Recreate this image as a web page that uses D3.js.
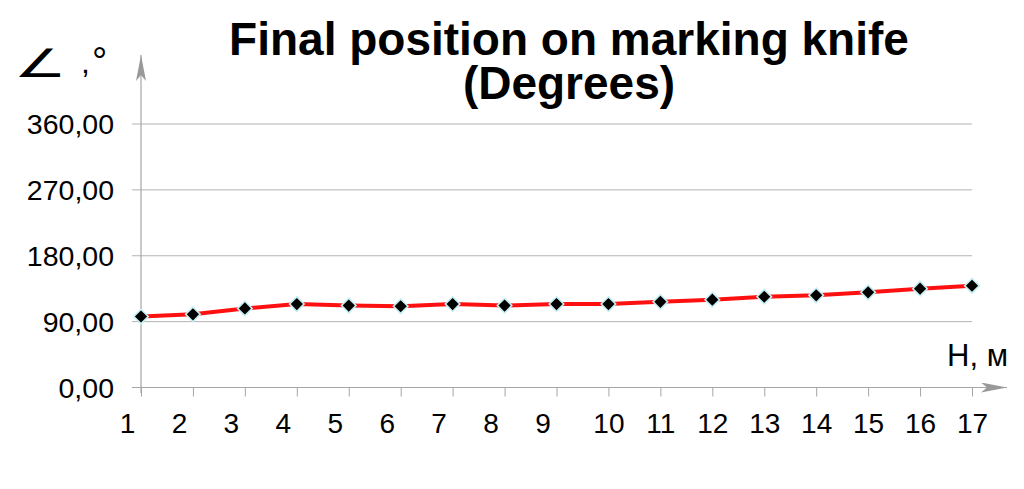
<!DOCTYPE html>
<html lang="en">
<head>
  <meta charset="UTF-8">
  <title>Final position on marking knife</title>
  <script src="https://d3js.org/d3.v7.min.js"></script>
  <style>
    html, body { margin: 0; padding: 0; background: #fff; }
    svg { display: block; }
    text { font-family: "Liberation Sans", Arial, sans-serif; fill: #000; }
  </style>
</head>
<body>
  <svg id="chart" width="1024" height="489"></svg>

  <script>
    // chart data
    const heights = ["1", "2", "3", "4", "5", "6", "7", "8", "9", "10", "11", "12", "13", "14", "15", "16", "17"];
    const angles = [97, 100, 108, 114, 112, 111, 114, 112, 114, 114, 117, 120, 124, 126, 130, 135, 139];
    const yTicks = [0, 90, 180, 270, 360];
    const titleLines = ["Final position on marking knife", "(Degrees)"];

    const svg = d3.select('#chart');

    // scales
    const x = d3.scalePoint()
      .domain(heights)
      .range([141, 972]);

    const y = d3.scaleLinear()
      .domain([0, 360])
      .range([387.5, 124]);

    const fmt = v => d3.format('.2f')(v).replace('.', ',');
    const axisColor = '#a6a6a6';

    // gridlines
    svg.append('g')
      .selectAll('line')
      .data(yTicks.filter(d => d > 0))
      .join('line')
      .attr('x1', 132)
      .attr('x2', x('17'))
      .attr('y1', d => y(d))
      .attr('y2', d => y(d))
      .attr('stroke', '#b3b3b3')
      .attr('stroke-width', 1);

    // y axis labels
    svg.append('g')
      .selectAll('text')
      .data(yTicks)
      .join('text')
      .attr('x', 114)
      .attr('y', d => y(d) + 10)
      .attr('text-anchor', 'end')
      .attr('font-size', 28.5)
      .text(fmt);

    // x axis with downward ticks
    const xAxis = d3.axisBottom(x)
      .tickSize(9)
      .tickFormat(d => d);

    const gx = svg.append('g')
      .attr('transform', `translate(0,${y(0)})`)
      .call(xAxis);
    gx.select('.domain').remove();
    gx.selectAll('.tick line').attr('stroke', axisColor);
    gx.selectAll('.tick text')
      .attr('font-family', '"Liberation Sans", Arial, sans-serif')
      .attr('font-size', 28)
      .attr('fill', '#000')
      .attr('dy', null)
      .attr('y', 45.5)
      .attr('dx', d => d.length === 1 ? -14 : 0);

    // arrow marker
    const defs = svg.append('defs');
    defs.append('marker')
      .attr('id', 'arrow')
      .attr('viewBox', '0 0 26 10')
      .attr('refX', 26)
      .attr('refY', 5)
      .attr('markerWidth', 26)
      .attr('markerHeight', 10)
      .attr('markerUnits', 'userSpaceOnUse')
      .attr('orient', 'auto')
      .append('path')
      .attr('d', 'M0,0 L26,5 L0,10 L6,5 Z')
      .attr('fill', '#999');

    // y axis line (upward arrow)
    svg.append('line')
      .attr('x1', x('1')).attr('x2', x('1'))
      .attr('y1', 393).attr('y2', 55)
      .attr('stroke', axisColor)
      .attr('stroke-width', 1.2)
      .attr('marker-end', 'url(#arrow)');

    // x axis line (rightward arrow)
    svg.append('line')
      .attr('x1', 132).attr('x2', 1007)
      .attr('y1', y(0)).attr('y2', y(0))
      .attr('stroke', axisColor)
      .attr('stroke-width', 1.2)
      .attr('marker-end', 'url(#arrow)');

    // series line
    const line = d3.line()
      .x((d, i) => x(heights[i]))
      .y(d => y(d));

    svg.append('path')
      .datum(angles)
      .attr('d', line)
      .attr('fill', 'none')
      .attr('stroke', '#ff1010')
      .attr('stroke-width', 4);

    // diamond markers
    const diamond = d3.symbol().type(d3.symbolSquare).size(105);
    svg.append('g')
      .selectAll('path')
      .data(angles)
      .join('path')
      .attr('d', diamond)
      .attr('transform', (d, i) => `translate(${x(heights[i])},${y(d)}) rotate(45)`)
      .attr('fill', '#000')
      .attr('stroke', '#c4eef2')
      .attr('stroke-width', 1.6);

    // title, one text per line
    svg.append('g')
      .selectAll('text')
      .data(titleLines)
      .join('text')
      .attr('x', 569)
      .attr('y', (d, i) => 55 + i * 44)
      .attr('text-anchor', 'middle')
      .attr('font-size', 46)
      .attr('font-weight', 'bold')
      .text(d => d);

    // y caption: angle sign, degrees
    svg.append('text')
      .attr('transform', 'translate(14,77) scale(1.5,1)')
      .attr('font-family', '"Noto Sans CJK JP", "DejaVu Sans", sans-serif')
      .attr('font-weight', 300)
      .attr('font-size', 39)
      .text('∠');
    svg.append('text')
      .attr('x', 81)
      .attr('y', 73)
      .attr('font-size', 32)
      .text(',');
    svg.append('text')
      .attr('x', 92)
      .attr('y', 74)
      .attr('font-size', 38)
      .text('°');

    svg.append('text')
      .attr('x', 1008)
      .attr('y', 366)
      .attr('text-anchor', 'end')
      .attr('font-size', 31)
      .text('H, м');
  </script>
</body>
</html>
